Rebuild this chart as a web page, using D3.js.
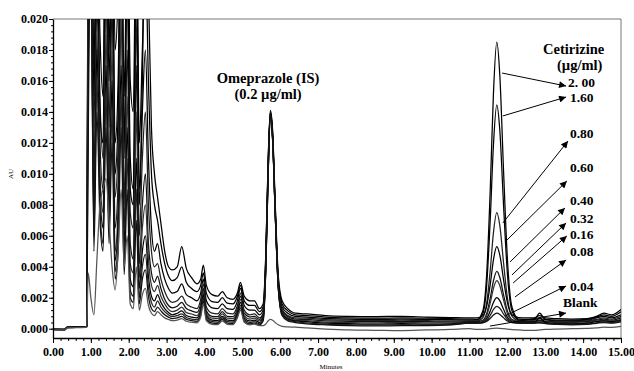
<!DOCTYPE html>
<html><head><meta charset="utf-8">
<script src="https://cdn.jsdelivr.net/npm/d3@7"></script>
<style>body{margin:0;background:#fff}svg{display:block}
svg text{font-family:"Liberation Serif","DejaVu Serif",serif !important;}</style>
</head><body><svg id="c" width="634" height="371"></svg>
<script>
// retention time grid (minutes)
const times = [0,0.3,0.38,0.86,0.89,
 0.93,1.0,1.08,1.16,1.24,1.32,1.4,1.48,1.56,1.64,1.72,1.8,1.88,1.96,2.04,2.12,2.2,2.28,2.36,2.44,2.52,2.6,2.68,
 2.76,2.85,2.95,3.05,3.15,3.28,3.4,3.52,3.66,3.8,3.9,3.97,4.05,4.2,4.35,4.47,4.6,4.75,4.87,4.95,5.05,5.2,5.32,5.45,
 5.55,5.62,5.68,5.74,5.8,5.87,5.95,6.05,6.2,6.4,
 6.7,7.2,7.8,8.5,9.2,9.9,10.5,11.0,
 11.2,11.35,11.45,11.55,11.63,11.72,11.8,11.9,12.0,12.12,12.3,12.5,
 12.7,12.85,13.0,13.3,13.7,14.1,14.35,14.55,14.75,15.0];

// absorbance in 10^-3 AU, one array per cetirizine level (µg/ml)
const c200 = [-0.05,-0.06,0.08,0.12,0.15,
 30,40,22,35,24,20,38,25,34,18,22,36,21,30,16,14,28,12,18,24,16,10,8,
 7.0,5.5,4.2,3.4,3.1,3.3,4.0,3.0,2.6,2.4,2.8,3.6,2.3,1.75,1.7,2.0,1.65,1.6,2.1,2.8,1.8,1.5,1.5,1.1,
 1.4,4.7,10.6,14.0,12.6,7.8,3.2,1.6,1.15,0.9,
 0.85,0.75,0.7,0.68,0.7,0.68,0.65,0.62,
 0.6,1.14,3.4,9.2,15.1,18.5,16.35,10.1,4.5,1.4,0.62,0.6,
 0.6,0.65,0.6,0.55,0.55,0.6,0.75,0.9,0.8,1.1];
const c160 = [-0.04,-0.05,0.1,0.12,0.14,
 26,36,17,28,19,15,33,18,28,12,16,30,15,26,11,9,24,8,14,18,11,6.5,5,
 5.5,4.2,3.2,2.6,2.3,2.4,2.9,2.2,2.0,1.8,2.3,3.2,1.8,1.35,1.3,1.6,1.3,1.25,1.8,2.6,1.5,1.2,1.2,0.9,
 1.2,4.5,10.4,13.9,12.4,7.6,3.0,1.4,1.0,0.8,
 0.75,0.66,0.62,0.6,0.62,0.6,0.58,0.55,
 0.55,0.97,2.72,7.22,11.8,14.45,12.8,7.9,3.55,1.16,0.56,0.55,
 0.55,1.0,0.6,0.5,0.5,0.55,0.7,0.8,0.7,0.9];
const c080 = [-0.06,-0.07,0.07,0.1,0.13,
 24,30,13,25,15,11,26,13,24,8.5,12,26,11,22,7.5,6.5,20,6,11,14,8,5,4,
 4.2,3.2,2.4,1.9,1.7,1.8,2.1,1.6,1.4,1.3,1.9,2.9,1.4,1.0,0.95,1.3,1.0,0.95,1.5,2.3,1.2,0.9,0.95,0.7,
 1.0,4.3,10.2,13.8,12.3,7.5,2.9,1.25,0.85,0.7,
 0.68,0.58,0.55,0.52,0.55,0.52,0.5,0.5,
 0.5,0.71,1.6,3.86,6.17,7.5,6.66,4.21,2.0,0.81,0.52,0.5,
 0.5,0.55,0.5,0.45,0.45,0.5,0.6,0.7,0.62,0.8];
const c060 = [-0.03,-0.04,0.1,0.14,0.16,
 22,32,15,27,14,12,30,16,26,10,14,28,12,24,9,8,26,9,16,30,22,13,10,
 8.5,6.8,5.0,4.0,3.8,4.0,5.3,3.9,3.3,2.9,3.2,4.1,2.8,2.2,2.1,2.4,2.0,1.9,2.3,3.0,2.1,1.8,1.8,1.3,
 1.6,4.9,10.8,14.1,12.8,8.0,3.4,1.8,1.3,1.0,
 0.95,0.85,0.8,0.78,0.8,0.75,0.72,0.7,
 0.7,0.84,1.42,2.91,4.43,5.3,4.75,3.14,1.69,0.9,0.72,0.7,
 0.7,0.85,0.7,0.65,0.62,0.65,0.8,1.0,0.9,1.25];
const c040 = [-0.05,-0.05,0.09,0.11,0.14,
 20,26,10,21,12,9,22,10,21,6.5,9.5,23,8,18,5.5,4.5,17,4.2,8,10,5.5,3.6,3,
 3.4,2.6,1.9,1.5,1.35,1.45,1.7,1.3,1.15,1.05,1.6,2.6,1.15,0.8,0.78,1.1,0.8,0.78,1.3,2.1,1.0,0.75,0.8,0.6,
 0.9,4.2,10.1,13.7,12.2,7.4,2.8,1.15,0.78,0.62,
 0.6,0.5,0.48,0.45,0.48,0.45,0.44,0.45,
 0.45,0.55,0.96,2.01,3.08,3.7,3.31,2.17,1.15,0.59,0.46,0.45,
 0.45,0.5,0.45,0.4,0.4,0.45,0.55,0.62,0.55,0.7];
const c032 = [-0.06,-0.06,0.08,0.1,0.12,
 25,24,8,19,10,7.5,19,8.5,18,5,8,20,6.5,15,4.2,3.6,14,3.3,6.5,8,4.5,2.8,2.4,
 2.8,2.1,1.6,1.25,1.1,1.2,1.4,1.05,0.95,0.85,1.4,2.4,1.0,0.68,0.65,0.95,0.68,0.65,1.15,1.9,0.85,0.62,0.68,0.5,
 0.8,4.1,10.0,13.6,12.1,7.3,2.7,1.05,0.7,0.55,
 0.52,0.43,0.4,0.38,0.4,0.38,0.38,0.4,
 0.4,0.48,0.82,1.7,2.59,3.1,2.78,1.83,0.98,0.52,0.41,0.4,
 0.4,0.45,0.4,0.36,0.36,0.4,0.5,0.55,0.5,0.6];
const c016 = [-0.04,-0.05,0.09,0.12,0.15,
 16,22,7,18,9,6.5,17,7.5,16,4.4,7,17,5.2,13,3.2,2.7,11,2.6,5,6,3.4,2.1,1.8,
 2.2,1.7,1.3,1.05,0.9,1.0,1.15,0.85,0.75,0.7,1.2,2.2,0.85,0.55,0.52,0.8,0.55,0.52,1.0,1.7,0.7,0.5,0.55,0.4,
 0.7,4.0,9.9,13.9,12.3,7.4,2.7,1.0,0.62,0.5,
 0.45,0.36,0.33,0.3,0.33,0.3,0.32,0.38,
 0.38,0.43,0.63,1.16,1.69,2.0,1.81,1.24,0.73,0.45,0.38,0.38,
 0.38,0.7,0.4,0.33,0.32,0.35,0.45,0.5,0.45,0.55];
const c008 = [-0.05,-0.07,0.07,0.11,0.13,
 28,24,6,16,8,5.5,15,6.5,14,3.7,6,15,4.2,11,2.5,2.1,9,2.0,4,4.8,2.7,1.7,1.4,
 1.8,1.4,1.1,0.9,0.78,0.85,0.95,0.72,0.62,0.58,1.05,2.0,0.72,0.45,0.42,0.7,0.45,0.42,0.9,1.5,0.6,0.4,0.45,0.32,
 0.6,3.9,9.8,13.8,12.2,7.3,2.6,0.9,0.55,0.45,
 0.38,0.3,0.26,0.24,0.26,0.25,0.27,0.36,
 0.36,0.39,0.53,0.88,1.24,1.45,1.32,0.94,0.6,0.41,0.36,0.36,
 0.36,0.4,0.35,0.3,0.28,0.3,0.38,0.45,0.4,0.5];
const c004 = [-0.05,-0.06,0.08,0.1,0.12,
 12,28,5,14,7,5,13,5.5,12,3.2,5,13,3.5,9,2.0,1.7,7,1.6,3.2,3.8,2.1,1.3,1.1,
 1.4,1.15,0.9,0.75,0.65,0.7,0.8,0.6,0.52,0.48,0.9,1.8,0.6,0.36,0.34,0.6,0.36,0.34,0.8,1.35,0.5,0.32,0.36,0.25,
 0.5,3.8,9.7,14.0,12.4,7.4,2.6,0.85,0.5,0.4,
 0.32,0.25,0.2,0.18,0.2,0.2,0.24,0.36,
 0.36,0.38,0.46,0.67,0.88,1.0,0.92,0.7,0.5,0.39,0.36,0.36,
 0.36,0.38,0.33,0.28,0.25,0.28,0.35,0.4,0.36,0.45];
const blank = [-0.07,-0.08,0.05,0.08,0.1,
 3.6,2.0,0.9,4.5,8.0,9.0,9.7,7.0,4.0,2.5,5.0,9.0,4.0,6.0,1.6,1.3,4.0,1.2,2.2,2.6,1.5,1.0,0.85,
 1.1,0.9,0.7,0.6,0.52,0.56,0.65,0.48,0.42,0.38,0.75,1.6,0.5,0.28,0.26,0.5,0.28,0.26,0.7,1.2,0.42,0.25,0.3,0.2,
 0.2,0.3,0.5,0.6,0.55,0.4,0.25,0.15,0.12,0.1,
 0.05,-0.02,-0.08,-0.1,-0.12,-0.08,-0.05,0.0,
 -0.05,-0.05,-0.03,0.0,0.02,0.03,0.02,0.0,-0.03,-0.06,-0.08,-0.1,
 -0.1,-0.08,-0.05,-0.02,0.0,0.02,0.05,0.1,0.08,0.15];

const levelLabels = ["2. 00","1.60","0.80","0.60","0.40","0.32","0.16","0.08","0.04","Blank"];
const levelSeries = [c200,c160,c080,c060,c040,c032,c016,c008,c004,blank];
const lineColors = ["#000","#000","#222","#000","#111","#333","#000","#222","#111","#555"];

// level label anchor (time, 10^-3 AU) and arrow start / end
const labelT = [13.6,13.65,13.65,13.65,13.65,13.65,13.65,13.65,13.65,13.47];
const labelV = [15.61,14.64,12.32,10.12,7.99,6.83,5.79,4.70,2.44,1.40];
const arrowFrom = [[11.86,16.51],[11.88,13.74],[11.88,6.83],[11.99,5.73],[12.07,4.31],[12.12,3.47],[12.15,2.95],[12.2,2.05],[11.94,0.82],[11.54,0.17]];
const arrowTo = [[13.55,15.67],[13.55,14.96],[13.6,12.12],[13.57,9.54],[13.52,7.80],[13.55,6.83],[13.57,5.99],[13.55,4.44],[13.55,2.76],[13.55,1.01]];

const xTicks = d3.range(0,16,1);
const xMinor = d3.range(0,15.01,0.2);
const yTicks = d3.range(0,20.01,2);          // 10^-3 AU
const yMinor = d3.range(0,20.01,0.4);
const yTickLabels = ["0.000","0.002","0.004","0.006","0.008","0.010","0.012","0.014","0.016","0.018","0.020"];
const xTickLabels = ["0.00","1.00","2.00","3.00","4.00","5.00","6.00","7.00","8.00","9.00","10.00","11.00","12.00","13.00","14.00","15.00"];

const svg = d3.select("#c");
const L = 53, R = 621, T = 19, B = 338;
const x = d3.scaleLinear().domain([0,15]).range([L,R]);
const y = d3.scaleLinear().domain([-0.6,20]).range([B,T]);
const serif = "Liberation Serif, DejaVu Serif, serif";

svg.append("defs").append("clipPath").attr("id","clip")
  .append("rect").attr("x",L).attr("y",T).attr("width",R-L).attr("height",B-T);
svg.select("defs").append("marker").attr("id","ah").attr("viewBox","0 0 10 10")
  .attr("refX",10).attr("refY",5).attr("markerWidth",9).attr("markerHeight",7)
  .attr("markerUnits","userSpaceOnUse").attr("orient","auto")
  .append("path").attr("d","M0,0L10,5L0,10Z").attr("fill","#000");

// frame (top, right)
svg.append("path").attr("d",`M${L},${T}H${R}V${B}`).attr("fill","none").attr("stroke","#777").attr("stroke-width",1);

// traces
const line = d3.line().x((d,i)=>x(times[i])).y(d=>y(d)).curve(d3.curveMonotoneX);
svg.append("g").attr("clip-path","url(#clip)").selectAll("path").data(levelSeries).join("path")
  .attr("d",d=>line(d)).attr("fill","none")
  .attr("stroke",(d,i)=>lineColors[i]).attr("stroke-width",1.25).attr("stroke-linejoin","round");

// axes
svg.append("g").attr("transform",`translate(0,${B})`)
  .call(d3.axisBottom(x).tickValues(xTicks).tickFormat((d,i)=>xTickLabels[i]).tickSize(5).tickSizeOuter(0).tickPadding(4));
svg.append("g").attr("transform",`translate(0,${B})`)
  .call(d3.axisBottom(x).tickValues(xMinor).tickFormat("").tickSize(3).tickSizeOuter(0))
  .select(".domain").remove();
svg.append("g").attr("transform",`translate(${L},0)`)
  .call(d3.axisLeft(y).tickValues(yTicks).tickFormat((d,i)=>yTickLabels[i]).tickSize(4).tickSizeOuter(0).tickPadding(1));
svg.append("g").attr("transform",`translate(${L},0)`)
  .call(d3.axisLeft(y).tickValues(yMinor).tickFormat("").tickSize(2).tickSizeOuter(0))
  .select(".domain").remove();
svg.selectAll(".tick text").style("font-family",serif).attr("font-weight","bold").attr("font-size",12).attr("fill","#000");
svg.selectAll(".domain").attr("stroke","#000").attr("stroke-width",1.3);
svg.selectAll(".tick line").attr("stroke","#000");

// axis titles
svg.append("text").attr("transform","translate(13,174) rotate(-90)").attr("text-anchor","middle")
  .style("font-family",serif).attr("font-size",7).text("AU");
svg.append("text").attr("x",331).attr("y",369).attr("text-anchor","middle")
  .style("font-family",serif).attr("font-size",7).text("Minutes");

// annotations
const ann = svg.append("g").style("font-family",serif).attr("font-weight","bold").attr("fill","#000");
ann.append("text").attr("x",x(5.68)).attr("y",y(15.87)).attr("text-anchor","middle").attr("font-size",14.5).text("Omeprazole (IS)");
ann.append("text").attr("x",x(5.68)).attr("y",y(14.83)).attr("text-anchor","middle").attr("font-size",14.5).text("(0.2 µg/ml)");
ann.append("text").attr("x",x(12.94)).attr("y",y(17.74)).attr("font-size",14.5).text("Cetirizine");
ann.append("text").attr("x",x(13.31)).attr("y",y(16.71)).attr("font-size",14.5).text("(µg/ml)");
ann.selectAll("text.lvl").data(levelLabels).join("text").attr("class","lvl")
  .attr("x",(d,i)=>x(labelT[i])).attr("y",(d,i)=>y(labelV[i])).attr("font-size",13.5).text(d=>d);

svg.append("g").selectAll("line").data(arrowFrom).join("line")
  .attr("x1",d=>x(d[0])).attr("y1",d=>y(d[1]))
  .attr("x2",(d,i)=>x(arrowTo[i][0])).attr("y2",(d,i)=>y(arrowTo[i][1]))
  .attr("stroke","#000").attr("stroke-width",1).attr("marker-end","url(#ah)");
</script></body></html>
